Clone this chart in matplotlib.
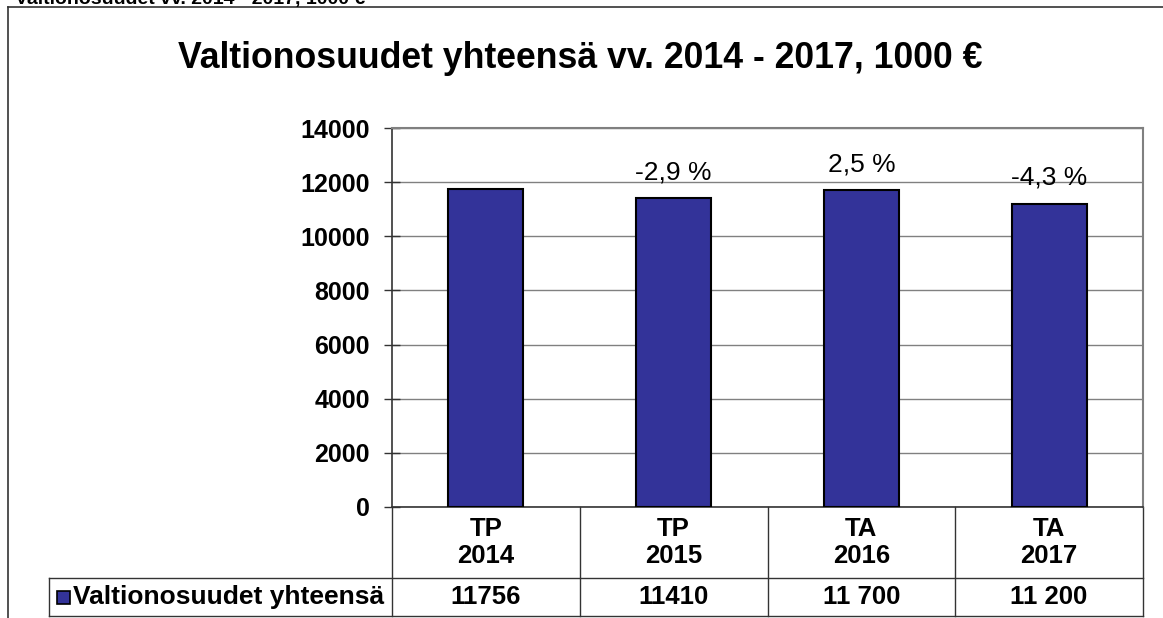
import matplotlib
matplotlib.use("Agg")
import matplotlib.pyplot as plt
from matplotlib.lines import Line2D
from matplotlib.patches import Rectangle

plt.rcParams['font.family'] = ['Liberation Sans', 'DejaVu Sans']

categories = ["TP\n2014", "TP\n2015", "TA\n2016", "TA\n2017"]
values = [11756, 11410, 11700, 11200]
value_labels = ["11756", "11410", "11 700", "11 200"]
change_labels = ["", "-2,9 %", "2,5 %", "-4,3 %"]
series_name = "Valtionosuudet yhteensä"
yticks = [0, 2000, 4000, 6000, 8000, 10000, 12000, 14000]

W, H = 1163, 618
fig = plt.figure(figsize=(W / 100, H / 100), dpi=100)

def fx(px):
    return px / W

def fy(py):
    return 1 - py / H

# cut-off header text at the very top (partly outside the picture, as in the original)
fig.text(fx(15), fy(4), "Valtionosuudet vv. 2014 - 2017, 1000 €", fontsize=14,
         fontweight='bold', va='baseline', ha='left')

# outer chart frame
fig.add_artist(Line2D([fx(8), fx(1170)], [fy(7), fy(7)], color='#333333', lw=1.2))
fig.add_artist(Line2D([fx(8), fx(8)], [fy(7), fy(625)], color='#333333', lw=1.2))

# title
fig.text(fx(580), fy(59), "Valtionosuudet yhteensä vv. 2014 - 2017, 1000 €",
         fontsize=25.7, fontweight='bold', ha='center', va='center')

ax_l, ax_r, ax_t, ax_b = 392, 1143, 128, 507
ax = fig.add_axes([fx(ax_l), fy(ax_b), fx(ax_r - ax_l), (ax_b - ax_t) / H])

x = list(range(len(categories)))
bars = ax.bar(x, values, width=0.40, color='#333399', edgecolor='black', linewidth=1.5, zorder=3)
ax.set_xlim(-0.5, len(categories) - 0.5)
ax.set_ylim(0, 14000)
ax.set_yticks(yticks)
ax.set_yticklabels([str(t) for t in yticks], fontsize=18, fontweight='bold')
ax.set_xticks([])
ax.yaxis.grid(True, color='#808080', lw=1.0, zorder=0)
ax.set_axisbelow(True)
for s in ['top', 'right']:
    ax.spines[s].set_color('#808080')
    ax.spines[s].set_linewidth(1.5)
for s in ['left', 'bottom']:
    ax.spines[s].set_color('#333333')
    ax.spines[s].set_linewidth(1.2)
ax.tick_params(axis='y', direction='inout', length=12, width=1.0, color='#333333', pad=10)

for xi, v, lab in zip(x, values, change_labels):
    if lab:
        ax.annotate(lab, (xi, v), xytext=(0, 10), textcoords='offset points',
                    ha='center', va='bottom', fontsize=19)

# data table under the axes
trans = ax.get_xaxis_transform()
row1_bot = (ax_b - 578) / (ax_b - ax_t)   # axes fraction (negative)
row2_bot = (ax_b - 616) / (ax_b - ax_t)
left_frac = (49 - ax_l) / (ax_r - ax_l)
lc = '#333333'
lw = 1.0
n = len(categories)
for b in [i - 0.5 for i in range(n + 1)]:
    ax.add_line(Line2D([b, b], [0, row2_bot], transform=trans, color=lc, lw=lw, clip_on=False))
ax.add_line(Line2D([left_frac, 1], [row1_bot, row1_bot], transform=ax.transAxes,
                   color=lc, lw=lw, clip_on=False))
ax.add_line(Line2D([left_frac, 1], [row2_bot, row2_bot], transform=ax.transAxes,
                   color=lc, lw=lw, clip_on=False))
ax.add_line(Line2D([left_frac, left_frac], [row1_bot, row2_bot], transform=ax.transAxes,
                   color=lc, lw=lw, clip_on=False))

cat_y = (row1_bot + 0) / 2
val_y = (row1_bot + row2_bot) / 2
for xi, c, vl in zip(x, categories, value_labels):
    ax.text(xi, cat_y, c, transform=trans, ha='center', va='center', fontsize=18.5,
            fontweight='bold', linespacing=1.12, clip_on=False)
    ax.text(xi, val_y, vl, transform=trans, ha='center', va='center', fontsize=18.5,
            fontweight='bold', clip_on=False)

# legend key in the table
fig.add_artist(Rectangle((fx(57), fy(604)), fx(13), 13 / H, facecolor='#333399',
                         edgecolor='black', lw=1.2))
fig.text(fx(73), fy(597), series_name, fontsize=19, fontweight='bold',
         ha='left', va='center')

fig.savefig("out.png", dpi=100)
